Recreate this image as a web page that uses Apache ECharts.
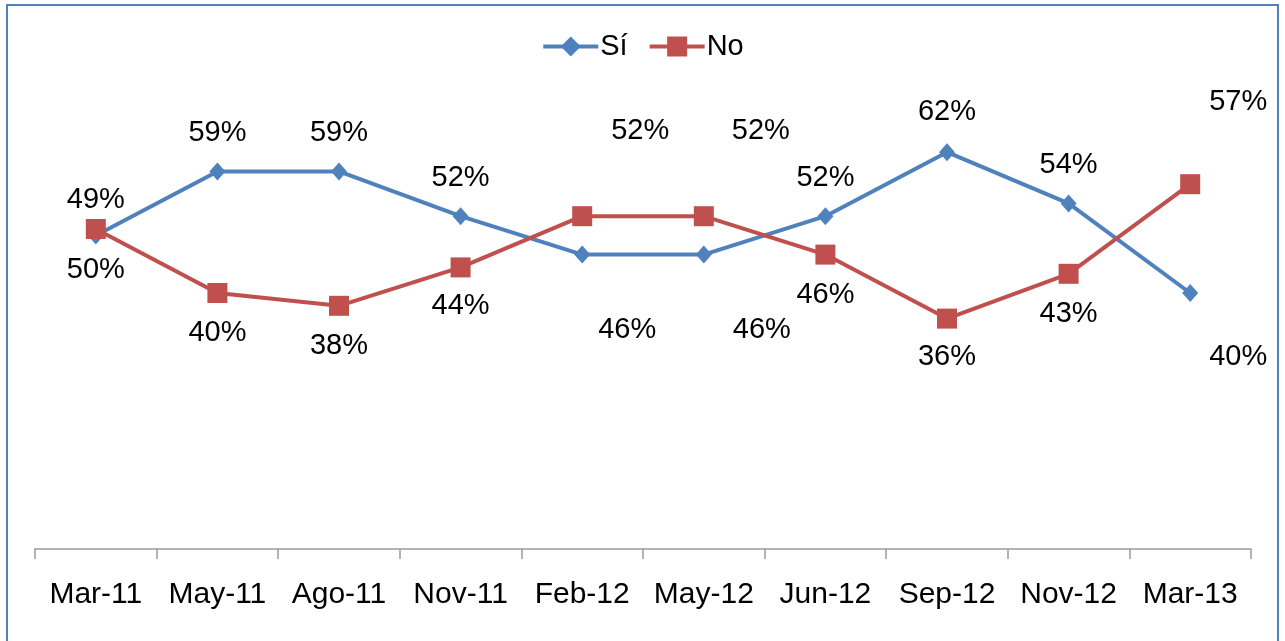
<!DOCTYPE html>
<html>
<head>
<meta charset="utf-8">
<script src="https://cdn.jsdelivr.net/npm/echarts@6/dist/echarts.min.js"></script>
<style>
  html, body { margin: 0; padding: 0; background: #fff; }
  #chart { width: 1285px; height: 641px; }
</style>
</head>
<body>
<div id="chart"></div>
<script>
const categories = ['Mar-11', 'May-11', 'Ago-11', 'Nov-11', 'Feb-12', 'May-12', 'Jun-12', 'Sep-12', 'Nov-12', 'Mar-13'];
const siValues = [49, 59, 59, 52, 46, 46, 52, 62, 54, 40];
const noValues = [50, 40, 38, 44, 52, 52, 46, 36, 43, 57];

// label placement as in the original (Excel moved a few of them by hand)
const siLabelOffsets = [[0, -35], [0, -38], [0, -38], [0, -38], [45, 75], [58, 75], [0, -38], [0, -40], [0, -38], [48, 64]];
const noLabelOffsets = [[0, 41], [0, 40], [0, 40], [0, 39], [58, -85], [57, -85], [0, 40], [0, 38], [0, 40], [48, -82]];

const withLabels = (values, offsets) => values.map((v, i) => ({
    value: v,
    label: { position: 'inside', offset: offsets[i] }
}));

const chart = echarts.init(document.getElementById('chart'));

const labelStyle = {
    show: true,
    formatter: (p) => p.value + '%',
    fontFamily: 'Liberation Sans, Arial, sans-serif',
    fontSize: 29,
    color: '#000'
};

chart.setOption({
    animation: false,
    textStyle: { fontFamily: 'Liberation Sans, Arial, sans-serif' },
    graphic: [{
        type: 'rect',
        shape: { x: 7, y: 5, width: 1271, height: 700 },
        style: { fill: 'none', stroke: '#4F81BD', lineWidth: 2 },
        silent: true
    }],
    legend: {
        top: 27,
        left: 'center',
        itemWidth: 55,
        itemHeight: 25,
        itemGap: 20,
        lineStyle: { width: 4 },
        textStyle: { fontSize: 29, color: '#000', padding: [0, 0, 0, -3] },
        data: ['Sí', 'No']
    },
    grid: { left: 35, right: 34, top: 101, bottom: 92 },
    xAxis: {
        type: 'category',
        data: categories,
        boundaryGap: true,
        axisLine: { lineStyle: { color: '#9a9a9a', width: 1.5 } },
        axisTick: { show: true, inside: false, alignWithLabel: false, interval: 0, length: 10, lineStyle: { color: '#9a9a9a', width: 1.5 } },
        axisLabel: { fontSize: 30, color: '#000', margin: 31, interval: 0 }
    },
    yAxis: {
        type: 'value',
        min: 0,
        max: 70,
        show: false,
        splitLine: { show: false }
    },
    series: [
        {
            name: 'Sí',
            type: 'line',
            data: withLabels(siValues, siLabelOffsets),
            symbol: 'diamond',
            symbolSize: [16, 18],
            lineStyle: { color: '#4F81BD', width: 4 },
            itemStyle: { color: '#4F81BD' },
            label: labelStyle
        },
        {
            name: 'No',
            type: 'line',
            data: withLabels(noValues, noLabelOffsets),
            symbol: 'rect',
            symbolSize: 20,
            lineStyle: { color: '#C0504D', width: 4 },
            itemStyle: { color: '#C0504D' },
            label: labelStyle
        }
    ]
});
</script>
</body>
</html>
